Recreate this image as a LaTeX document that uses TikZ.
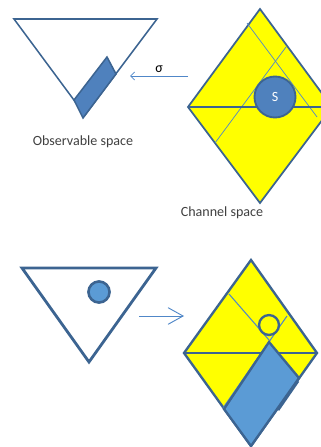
\documentclass[tikz,border=0pt]{standalone}
\usepackage{fontspec}
\setmainfont{Carlito}
\usetikzlibrary{arrows.meta, positioning, calc}
\definecolor{cEdge}{RGB}{60,100,145}
\definecolor{cBlue}{RGB}{79,129,189}
\definecolor{cLight}{RGB}{91,155,213}
\definecolor{cLine}{RGB}{80,135,200}
\definecolor{cYellow}{RGB}{255,255,0}
\definecolor{cText}{RGB}{64,64,64}
\tikzset{
	% spaces
	obsspace/.style ={draw=cEdge, line width=1.3pt, line join=miter},
	chanspace/.style={draw=cEdge, line width=1.5pt, fill=cYellow, line join=miter},
	cutline/.style  ={draw=cLine, line width=0.6pt},
	region/.style   ={draw=cEdge, line width=1.3pt, fill=cBlue},
	dot/.style      ={circle, draw=cEdge, line width=1.6pt, inner sep=0pt},
	% maps
	mapback/.style  ={-{Straight Barb[length=1.2mm, width=2.4mm]}, cLine, line width=0.7pt},
	mapfwd/.style   ={-{Straight Barb[length=4.5mm, width=5mm]}, cLine, line width=0.8pt},
	caption/.style  ={text=cText, font=\large},
}

\begin{document}
\begin{tikzpicture}[x=0.03cm, y=-0.03cm]
	\useasboundingbox (0,0) rectangle (321,447);
	% ---- upper part: observable space with slab ----
	\coordinate (oA) at (14,19);
	\coordinate (oB) at (157,19);
	\coordinate (oC) at (85,115);
	\draw[obsspace] (oA) -- (oB) -- (oC) -- cycle;
	\draw[region] (74,100) -- (107,57) -- (116,74) -- (83,118) -- cycle;
	\node[caption] (obs) at (83,142) {Observable space};
	% channel space
	\coordinate (cT) at (260,9);
	\coordinate (cL) at (188,107);
	\coordinate (cB) at (260,203);
	\coordinate (cR) at (332,107);
	\draw[chanspace] (cT) -- (cR) -- (cB) -- (cL) -- cycle;
	\draw[cutline] (247,23) -- (317,117);
	\draw[cutline] (215,143) -- (286,47);
	\draw[chanspace, fill=none] (cL) -- (cR);
	\node[dot, fill=cBlue, minimum size=35pt, text=white, font=\large] (S) at (275,97) {S};
	\node[caption] (chan) at (222,213) {Channel space};
	% sigma map
	\coordinate (sigS) at (188,76);
	\coordinate (sigE) at (130,76);
	\draw[mapback] (sigS) -- (sigE) node[midway, above=-1pt, text=black, font=\large] (sig) {σ};
	% ---- lower part ----
	\coordinate (pA) at (22,268);
	\coordinate (pB) at (156,268);
	\coordinate (pC) at (89,362);
	\draw[obsspace, line width=2.4pt] (pA) -- (pB) -- (pC) -- cycle;
	\node[dot, fill=cLight, line width=2.2pt, minimum size=18pt] (p) at (99,292) {};
	\coordinate (fwdS) at (139,316);
	\coordinate (fwdE) at (184,316);
	\draw[mapfwd] (fwdS) -- (fwdE);
	% channel space with image
	\coordinate (dT) at (251,260);
	\coordinate (dL) at (184,353);
	\coordinate (dB) at (251,446);
	\coordinate (dR) at (317,353);
	\draw[chanspace, line width=2pt] (dT) -- (dR) -- (dB) -- (dL) -- cycle;
	\draw[cutline, line width=0.9pt] (229,294) -- (269,340);
	\draw[cutline, line width=0.9pt] (287,316) -- (223,408);
	\draw[chanspace, fill=none, line width=2pt] (dL) -- (dR);
	\node[dot, line width=2pt, minimum size=17pt] (q) at (269,325) {};
	\draw[region, fill=cLight, line width=2pt] (269,342) -- (299,378) -- (251,446) -- (224,409) -- cycle;
	\draw[cEdge, line width=2.4pt] (298,381) -- (278,410);
\end{tikzpicture}
\end{document}
